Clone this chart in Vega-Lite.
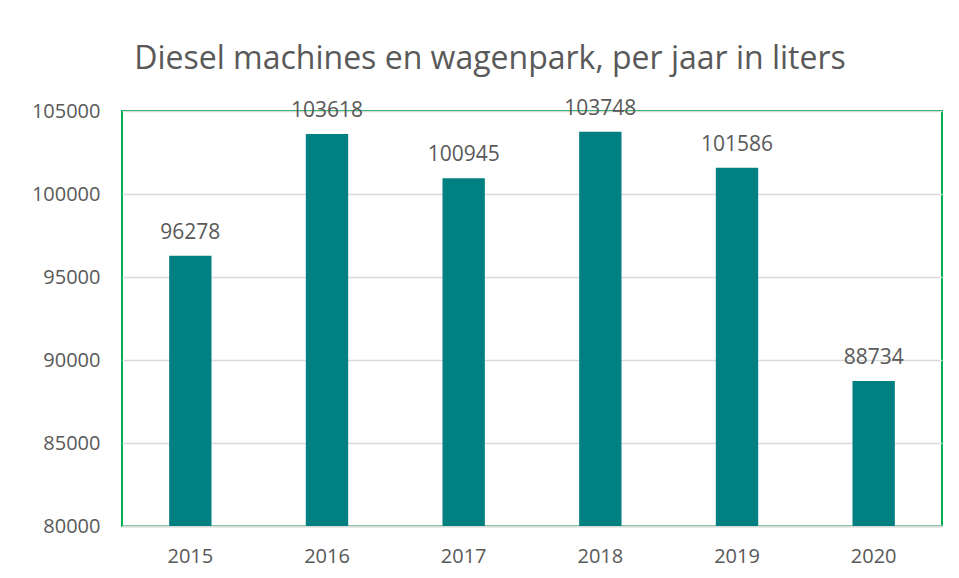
{
  "$schema": "https://vega.github.io/schema/vega-lite/v6.json",
  "autosize": {"type": "none"},
  "width": 820,
  "height": 415,
  "padding": {"left": 122, "top": 111, "right": 17, "bottom": 52},
  "background": "white",
  "title": {
    "text": "Diesel machines en wagenpark, per jaar in liters",
    "font": "Open Sans",
    "fontSize": 32,
    "fontWeight": "normal",
    "color": "#595959",
    "anchor": "middle",
    "dx": -42,
    "offset": 22
  },
  "data": {
    "values": [
      {"jaar": "2015", "liters": 96278},
      {"jaar": "2016", "liters": 103618},
      {"jaar": "2017", "liters": 100945},
      {"jaar": "2018", "liters": 103748},
      {"jaar": "2019", "liters": 101586},
      {"jaar": "2020", "liters": 88734}
    ]
  },
  "encoding": {
    "x": {
      "field": "jaar",
      "type": "nominal",
      "scale": {"paddingInner": 0.69, "paddingOuter": 0.345},
      "axis": {
        "title": null,
        "labelAngle": 0,
        "labelFont": "Open Sans",
        "labelFontSize": 20,
        "labelColor": "#595959",
        "labelPadding": 20,
        "ticks": false,
        "domainColor": "#d9d9d9",
        "domainWidth": 2
      }
    },
    "y": {
      "field": "liters",
      "type": "quantitative",
      "scale": {"domain": [80000, 105000], "nice": false, "zero": false},
      "axis": {
        "title": null,
        "values": [80000, 85000, 90000, 95000, 100000, 105000],
        "format": "d",
        "labelFont": "Open Sans",
        "labelFontSize": 20,
        "labelColor": "#595959",
        "labelPadding": 22,
        "ticks": false,
        "domain": false,
        "gridColor": "#d9d9d9",
        "gridWidth": 1.5
      }
    }
  },
  "layer": [
    {
      "mark": {"type": "bar", "color": "#008080", "clip": true},
      "encoding": {"y2": {"datum": 80000}}
    },
    {
      "mark": {
        "type": "text",
        "baseline": "alphabetic",
        "dy": -17,
        "font": "Open Sans",
        "fontSize": 21,
        "color": "#595959"
      },
      "encoding": {"text": {"field": "liters", "type": "quantitative", "format": "d"}}
    }
  ],
  "config": {
    "view": {"stroke": "#00b050", "strokeWidth": 2}
  }
}
